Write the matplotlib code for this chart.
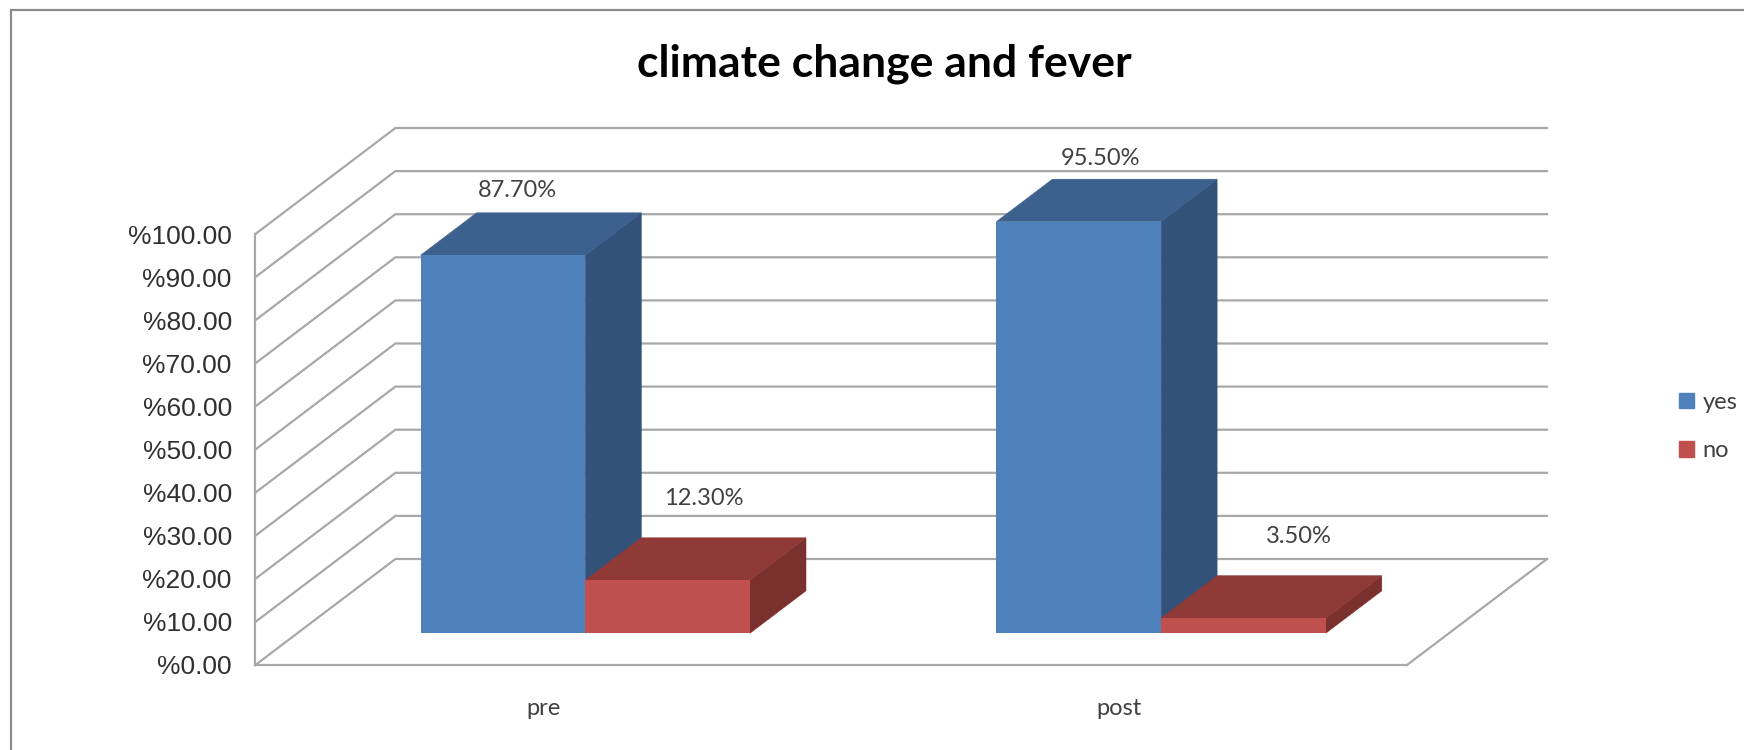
import matplotlib
matplotlib.use("Agg")
import matplotlib.pyplot as plt
from matplotlib.lines import Line2D
from matplotlib.patches import Patch

# Survey results, percent of respondents
categories = ["pre", "post"]
yes_values = [87.70, 95.50]
no_values = [12.30, 3.50]
y_ticks = [0, 10, 20, 30, 40, 50, 60, 70, 80, 90, 100]
y_tick_labels = [f"%{t:.2f}" for t in y_ticks]
title_text = "climate change and fever"

W, H = 1744, 750
fig = plt.figure(figsize=(W / 100, H / 100), dpi=100, facecolor="white")

# Front plane of the oblique box
LEFT, RIGHT, BASE, TOP = 255.4, 1407.0, 665.0, 234.0
ax = fig.add_axes([LEFT / W, 1 - BASE / H, (RIGHT - LEFT) / W, (BASE - TOP) / H])
ax.set_xlim(0, 2)
ax.set_ylim(0, 100)
ax.patch.set_alpha(0)

# Oblique projection: depth d runs from 0 (front) to 1 (back wall)
PX_PER_X = (RIGHT - LEFT) / 2
PX_PER_Y = (BASE - TOP) / 100
DEPTH_X = 140.0 / PX_PER_X
DEPTH_Y = 106.0 / PX_PER_Y


def project(x, y, d):
    return x + d * DEPTH_X, y + d * DEPTH_Y


def face(points, color, z):
    xy = [project(*p) for p in points]
    ax.fill([p[0] for p in xy], [p[1] for p in xy], color=color, lw=0.4, zorder=z, clip_on=False)


GRID = "#a8a8a8"
GRID_LW = 1.6

# Walls: each gridline runs along the left wall, then across the back wall
for t in y_ticks:
    xs, ys = zip(project(0, t, 0), project(0, t, 1), project(2, t, 1))
    ax.plot(xs, ys, color=GRID, lw=GRID_LW, zorder=1, clip_on=False, solid_joinstyle="miter")
xs, ys = zip(project(2, 0, 0), project(2, 0, 1))
ax.plot(xs, ys, color=GRID, lw=GRID_LW, zorder=1, clip_on=False)

# Bars sit part way into the floor
BAR_D0, BAR_D1 = 0.30, 0.70
BAR_WIDTH = 0.286
series = [
    ("yes", yes_values, -BAR_WIDTH, ("#4F81BD", "#3C618F", "#325279")),
    ("no", no_values, 0.0, ("#C0504D", "#8F3A37", "#7A302D")),
]
centers = [i + 0.5 for i in range(len(categories))]

z = 3
for name, values, shift, (front, top, side) in series:
    for c, v in zip(centers, values):
        x0, x1 = c + shift, c + shift + BAR_WIDTH
        face([(x1, 0, BAR_D0), (x1, 0, BAR_D1), (x1, v, BAR_D1), (x1, v, BAR_D0)], side, z)
        face([(x0, v, BAR_D0), (x1, v, BAR_D0), (x1, v, BAR_D1), (x0, v, BAR_D1)], top, z)
        fx, fy = project(x0, 0, BAR_D0)
        ax.bar(fx, v, BAR_WIDTH, bottom=fy, align="edge", color=front, zorder=z + 1, clip_on=False)
    z += 2

# Value labels; offsets in pixels from the rear top edge of each bar
label_font = {"family": "Lato", "size": 17, "color": "#404040"}
label_offsets = {"yes": [(-42, 22), (-34, 21)], "no": [(-20, 39), (-1, 39)]}
for name, values, shift, _ in series:
    for c, v, off in zip(centers, values, label_offsets[name]):
        x, y = project(c + shift + BAR_WIDTH / 2, v, BAR_D1)
        ax.annotate(f"{v:.2f}%", (x, y), xytext=off, textcoords="offset pixels",
                    ha="center", va="center", zorder=10, annotation_clip=False, **label_font)

# Axes furniture
for s in ("top", "right"):
    ax.spines[s].set_visible(False)
for s in ("left", "bottom"):
    ax.spines[s].set_color(GRID)
    ax.spines[s].set_linewidth(GRID_LW)
ax.set_yticks(y_ticks, y_tick_labels, family="Liberation Sans", fontsize=19, color="#303030")
ax.set_xticks(centers, categories, family="Lato", fontsize=17, color="#404040")
ax.tick_params(axis="y", length=0, pad=17)
ax.tick_params(axis="x", length=0, pad=24)

fig.text(884 / W, 1 - 76 / H, title_text, family="Lato", weight="bold", fontsize=32,
         ha="center", va="baseline", color="black")

legend = fig.legend(
    handles=[Patch(color=s[3][0], label=s[0]) for s in series],
    loc="upper left", bbox_to_anchor=(1679 / W, 1 - 392 / H), frameon=False,
    handlelength=0.63, handleheight=0.63, handletextpad=0.36, labelspacing=1.16,
    borderpad=0, borderaxespad=0, prop={"family": "Lato", "size": 17},
)
for t in legend.get_texts():
    t.set_color("#404040")

# Outer chart border, open on the right and at the bottom
border = "#8c8c8c"
fig.add_artist(Line2D([10.5 / W, 10.5 / W, 1], [0, 1 - 9.5 / H, 1 - 9.5 / H], color=border, lw=1.6,
                      transform=fig.transFigure, solid_joinstyle="miter"))

fig.savefig("out.png", dpi=100)
